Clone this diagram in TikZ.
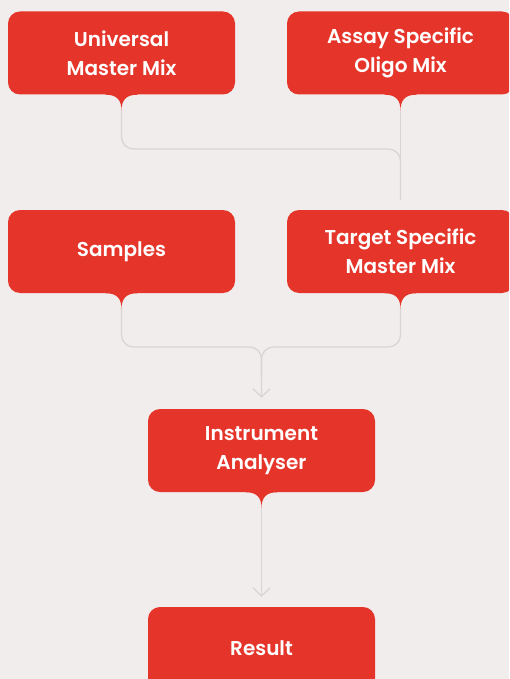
\documentclass[tikz,border=0pt]{standalone}
\usepackage{fontspec}
\setmainfont{Poppins}[BoldFont={Poppins SemiBold}]
\usetikzlibrary{calc,arrows.meta,positioning}
\definecolor{boxred}{HTML}{E5352A}
\definecolor{paper}{HTML}{F0EDEC}
\definecolor{linegray}{HTML}{D8D5D4}

\begin{document}
\begin{tikzpicture}[x=1pt, y=-1pt,
    mixbox/.style={fill=boxred, rounded corners=12pt, minimum width=227pt, minimum height=83pt,
        inner sep=0pt, text=white, align=center, font=\bfseries\fontsize{20}{29}\selectfont},
    link/.style={draw=linegray, line width=1.3pt, rounded corners=12pt}]
    \clip (0,0) rectangle (509,679);
    \fill[paper] (0,0) rectangle (509,679);
    % boxes
    \node[mixbox] (umm) at (121.5,53) {Universal\\Master Mix};
    \node[mixbox] (aso) at (400.5,53) {Assay Specific\\Oligo Mix};
    \node[mixbox] (smp) at (121.5,251.5) {Samples};
    \node[mixbox] (tsm) at (400.5,251.5) {Target Specific\\Master Mix};
    \node[mixbox] (ins) at (261.5,450.5) {Instrument\\Analyser};
    \node[mixbox] (res) at (261.5,648.5) {Result};
    % speech bubble tips
    \foreach \n in {umm,aso,smp,tsm,ins}
        \fill[boxred] ($(\n.south)+(-16,-1)$) -- ($(\n.south)+(-16,0)$)
            .. controls ($(\n.south)+(-4,0)$) and ($(\n.south)+(0,6)$) .. ($(\n.south)+(0,16)$) coordinate (\n-tip)
            .. controls ($(\n.south)+(0,6)$) and ($(\n.south)+(4,0)$) .. ($(\n.south)+(16,0)$) -- ($(\n.south)+(16,-1)$) -- cycle;
    % joins
    \coordinate (join1) at (400.5,149);
    \coordinate (join2) at (261.5,347);
    \coordinate (tsm-in) at ($(tsm.north)+(0,-10)$);
    \coordinate (ins-in) at ($(ins.north)+(0,-11)$);
    \coordinate (res-in) at ($(res.north)+(0,-10)$);
    \draw[link] (umm-tip) |- (join1) -- (tsm-in);
    \draw[link] (aso-tip) -- (tsm-in);
    \draw[link, -{Straight Barb[length=8pt, width=17pt]}] (smp-tip) |- (join2) -- (ins-in);
    \draw[link] (tsm-tip) |- (join2) -- ($(join2)+(0,30)$);
    \draw[link, -{Straight Barb[length=8pt, width=17pt]}] (ins-tip) -- (res-in);
\end{tikzpicture}
\end{document}
